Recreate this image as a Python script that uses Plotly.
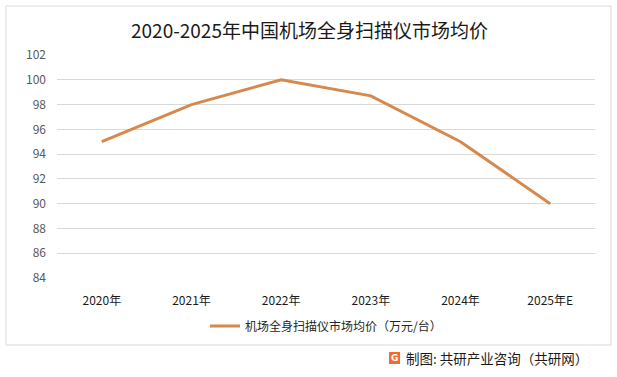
import plotly.graph_objects as go

years = ["2020年", "2021年", "2022年", "2023年", "2024年", "2025年E"]
prices = [95.0, 98.0, 100.0, 98.7, 95.0, 90.0]
series_name = "机场全身扫描仪市场均价（万元/台）"
title_text = "2020-2025年中国机场全身扫描仪市场均价"
source_text = "制图: 共研产业咨询（共研网）"
y_ticks = [84, 86, 88, 90, 92, 94, 96, 98, 100, 102]

W, H = 617, 377
L, R, T, B = 57, 595, 55, 278
FONT = "Noto Sans CJK SC"


def px(x):
    return (x - L) / (R - L)


def py(y):
    return (B - y) / (B - T)


fig = go.Figure()
fig.add_trace(go.Scatter(
    x=years, y=prices, mode="lines", name=series_name,
    line=dict(color="#D6894B", width=3),
))

fig.update_layout(
    width=W, height=H,
    margin=dict(l=L, r=W - R, t=T, b=H - B, autoexpand=False),
    paper_bgcolor="white", plot_bgcolor="white",
    font=dict(family=FONT, size=12, color="#404040"),
    showlegend=True,
    legend=dict(orientation="h", x=0.5, xanchor="center", y=py(326), yanchor="middle",
                font=dict(size=12, color="#262626"), bgcolor="rgba(0,0,0,0)"),
    xaxis=dict(showgrid=False, showline=False, zeroline=False, ticks="",
               range=[-0.5, len(years) - 0.5],
               tickfont=dict(size=12, color="#1a1a1a"), ticklabelstandoff=14),
    yaxis=dict(range=[84, 102], tickvals=y_ticks, showgrid=True, gridcolor="#D9D9D9",
               gridwidth=1, zeroline=False, showline=False, ticks="",
               tickfont=dict(size=12, color="#595959"), ticklabelstandoff=10),
    shapes=[
        dict(type="rect", xref="paper", yref="paper", x0=px(6), x1=px(611), y0=py(345), y1=py(6),
             line=dict(color="#D9D9D9", width=1), fillcolor="rgba(0,0,0,0)", layer="below"),
        dict(type="rect", xref="paper", yref="paper", x0=px(389), x1=px(400), y0=py(364), y1=py(352),
             line=dict(width=0), fillcolor="#F26B2A"),
    ],
    annotations=[
        dict(text=title_text, xref="paper", yref="paper", x=px(309), y=py(30),
             xanchor="center", yanchor="middle", showarrow=False,
             font=dict(size=19, color="#1a1a1a", family=FONT)),
        dict(text="<b>G</b>", xref="paper", yref="paper", x=px(394.5), y=py(358),
             xanchor="center", yanchor="middle", showarrow=False,
             font=dict(size=9, color="white", family="DejaVu Sans")),
        dict(text=source_text, xref="paper", yref="paper", x=px(404), y=py(358),
             xanchor="left", yanchor="middle", showarrow=False,
             font=dict(size=13.5, color="#1a1a1a", family=FONT)),
    ],
)

fig.write_html("out.html", config={"displayModeBar": False},
               post_script="document.body.style.margin='0';document.body.style.overflow='hidden';")
